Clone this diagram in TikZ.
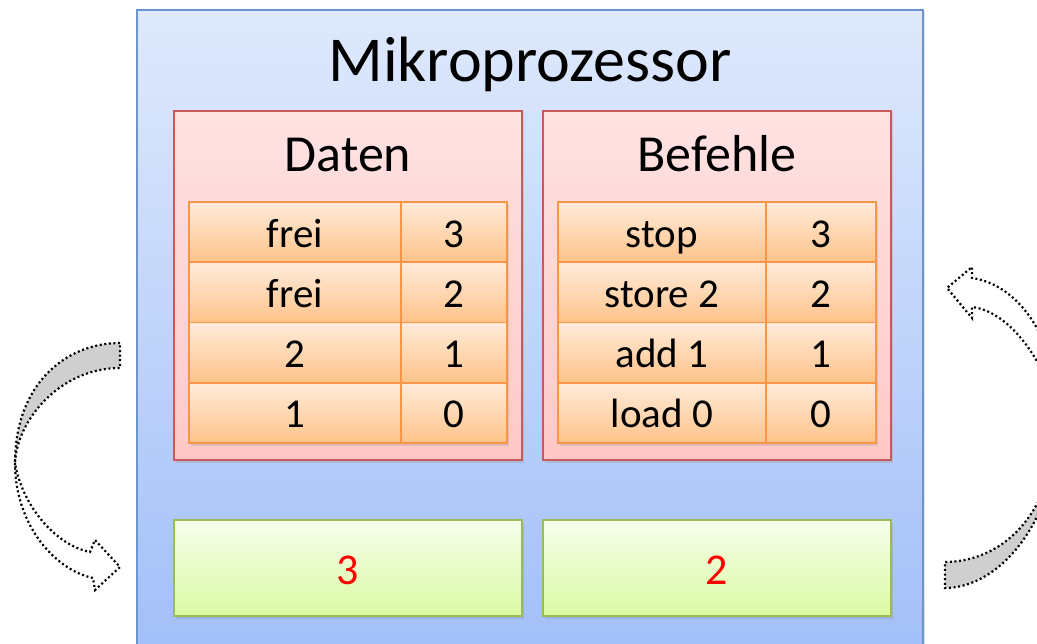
\documentclass[tikz,border=0pt]{standalone}
\usepackage{fontspec}
\setmainfont{Carlito}
\usetikzlibrary{shadows}
\definecolor{mpborder}{HTML}{6C95CE}
\definecolor{mptop}{HTML}{DFE9FC}
\definecolor{mpbot}{HTML}{A0BEF8}
\definecolor{rborder}{HTML}{C85A5A}
\definecolor{rtop}{HTML}{FFE2E2}
\definecolor{rbot}{HTML}{FFC8C8}
\definecolor{ctop}{HTML}{FFEBDA}
\definecolor{cbot}{HTML}{FFC38A}
\definecolor{cborder}{HTML}{F79646}
\definecolor{gtop}{HTML}{F6FEEA}
\definecolor{gbot}{HTML}{DAFAA4}
\definecolor{gborder}{HTML}{9BBB59}
\definecolor{arrgray}{HTML}{CFCFCF}
\definecolor{numred}{HTML}{FF0000}
\begin{document}
\begin{tikzpicture}[x=1pt,y=-1pt,
  softshadow/.style={drop shadow={shadow xshift=2pt,shadow yshift=-2.5pt,opacity=0.22}},
  mpbox/.style={draw=mpborder,line width=1.4pt,top color=mptop,bottom color=mpbot,
    minimum width=786pt,minimum height=660pt,inner sep=0pt,softshadow},
  redbox/.style={draw=rborder,line width=1.4pt,top color=rtop,bottom color=rbot,
    minimum width=348pt,minimum height=349pt,inner sep=0pt,softshadow},
  cellbox/.style={draw=cborder,line width=1.5pt,top color=ctop,bottom color=cbot,
    minimum height=60.25pt,inner sep=0pt,softshadow,
    font=\fontsize{41}{45}\selectfont,text height=30pt,text depth=0pt},
  greenbox/.style={draw=gborder,line width=1.8pt,top color=gtop,bottom color=gbot,
    minimum width=348pt,minimum height=96pt,inner sep=0pt,softshadow,
    font=\fontsize{44}{48}\selectfont,text height=32pt,text depth=0pt,text=numred},
  titletext/.style={anchor=base,inner sep=0pt,font=\fontsize{64}{70}\selectfont},
  headtext/.style={anchor=base,inner sep=0pt,font=\fontsize{52}{58}\selectfont},
  dotline/.style={line width=2.2pt,dash pattern=on 2pt off 2.6pt,line cap=butt,draw=black}
]
\useasboundingbox (0,0) rectangle (1037,644);
\clip (0,0) rectangle (1037,644);

% outer box
\node[mpbox] (mp) at (530,340) {};
\node[titletext] (title) at (530,82) {Mikroprozessor};

% Daten / Befehle boxes
\node[redbox] (daten) at (348,285.5) {};
\node[redbox] (befehle) at (717,285.5) {};
\node[headtext] (dtitle) at (348,172) {Daten};
\node[headtext] (btitle) at (717,172) {Befehle};

% Daten cells
\node[cellbox,minimum width=212pt] (d1l) at (295,232.1) {frei};
\node[cellbox,minimum width=106pt] (d1r) at (454,232.1) {3};
\node[cellbox,minimum width=212pt] (d2l) at (295,292.4) {frei};
\node[cellbox,minimum width=106pt] (d2r) at (454,292.4) {2};
\node[cellbox,minimum width=212pt] (d3l) at (295,352.6) {2};
\node[cellbox,minimum width=106pt] (d3r) at (454,352.6) {1};
\node[cellbox,minimum width=212pt] (d4l) at (295,412.9) {1};
\node[cellbox,minimum width=106pt] (d4r) at (454,412.9) {0};

% Befehle cells
\node[cellbox,minimum width=208pt] (b1l) at (662,232.1) {stop};
\node[cellbox,minimum width=110pt] (b1r) at (821,232.1) {3};
\node[cellbox,minimum width=208pt] (b2l) at (662,292.4) {store 2};
\node[cellbox,minimum width=110pt] (b2r) at (821,292.4) {2};
\node[cellbox,minimum width=208pt] (b3l) at (662,352.6) {add 1};
\node[cellbox,minimum width=110pt] (b3r) at (821,352.6) {1};
\node[cellbox,minimum width=208pt] (b4l) at (662,412.9) {load 0};
\node[cellbox,minimum width=110pt] (b4r) at (821,412.9) {0};

% registers
\node[greenbox] (g1) at (348,568) {3};
\node[greenbox] (g2) at (717,568) {2};

% left curved arrow
\fill[arrgray] (120,343) .. controls (65,343) and (15,385) .. (15,463)
  .. controls (17,420) and (60,368) .. (120,368) -- cycle;
\draw[dotline] (120,343) .. controls (65,343) and (15,385) .. (15,463)
  .. controls (17,420) and (60,368) .. (120,368) -- cycle;
\filldraw[fill=white,dotline] (15,463) .. controls (15,525) and (55,570) .. (93,578)
  -- (95,590) -- (120,567) -- (95,540) -- (90,552)
  .. controls (55,545) and (22,505) .. (15,463) -- cycle;

% right curved arrow
\filldraw[fill=white,dotline] (1058,420) .. controls (1058,340) and (1020,285) .. (972,278)
  -- (972,267) -- (947,288) -- (972,318) -- (972,307)
  .. controls (1015,312) and (1052,375) .. (1058,420) -- cycle;
\fill[arrgray] (1058,420) .. controls (1058,520) and (1000,588) .. (945,588)
  -- (945,562) .. controls (990,562) and (1052,530) .. (1058,420) -- cycle;
\draw[dotline] (1058,420) .. controls (1058,520) and (1000,588) .. (945,588)
  -- (945,562) .. controls (990,562) and (1052,530) .. (1058,420) -- cycle;
\end{tikzpicture}
\end{document}
